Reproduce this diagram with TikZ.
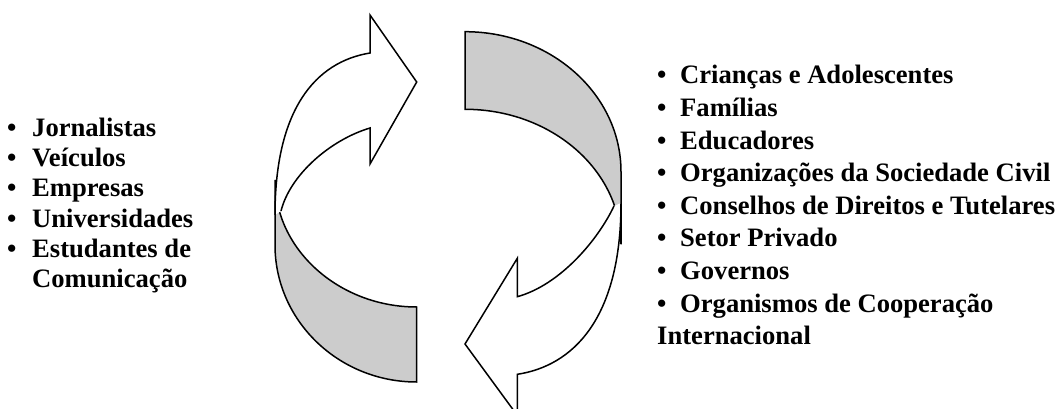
\documentclass[tikz,border=0pt]{standalone}
\usepackage{fontspec}
\setmainfont{Liberation Serif}
\usepackage{tikz}
\usetikzlibrary{positioning}
\usepackage{xcolor}
\definecolor{Silver}{HTML}{CCCCCC}
\tikzset{
  ribbon/.style={draw=black,line width=1.5pt,line join=miter},
  backface/.style={ribbon,fill=Silver},
  listitem/.style={anchor=base west,inner sep=0pt,font=\fontsize{26.6}{30}\selectfont\bfseries},
}

\begin{document}
\begin{tikzpicture}[x=1pt,y=-1pt]
     \useasboundingbox (0,0) rectangle (1061,409);
     \clip (0,0) rectangle (1061,409);

     % left arrow
     \filldraw[backface] (275,180) -- (275,245) .. controls (275,320.6) and (338.5,382) .. (416.7,382) -- (416.7,307) .. controls (339.6,307) and (275,250.1) .. (275,180) -- cycle;
     \fill[white] (370,53) .. controls (315,62) and (275,110) .. (275,215) -- (281,211) .. controls (290,175) and (330,140) .. (370,128) -- (370,164) -- (416.7,82) -- (370,15) -- cycle;
     \draw[ribbon] (281,211) .. controls (290,175) and (330,140) .. (370,128) -- (370,164) -- (416.7,82) -- (370,15) -- (370,53) .. controls (315,62) and (275,110) .. (275,215);

     % right arrow
     \filldraw[backface] (465,31.7) .. controls (551.1,31.7) and (621,94.4) .. (621,171.7) -- (621,244.3) .. controls (621,169.8) and (551.1,109.3) .. (465,109.3) -- cycle;
     \fill[white] (621,203) .. controls (621,320) and (572,366) .. (517.3,374.3) -- (517.3,415.4) -- (465,344) -- (517.3,258.3) -- (517.3,296.7) .. controls (560,285) and (598,240) .. (614,206) -- cycle;
     \draw[ribbon] (614,206) .. controls (598,240) and (560,285) .. (517.3,296.7) -- (517.3,258.3) -- (465,344) -- (517.3,415.4) -- (517.3,374.3) .. controls (572,366) and (621,320) .. (621,203);

     % left list
     \foreach \txt [count=\i] in {Jornalistas,Veículos,Empresas,Universidades,Estudantes de} {
          \node[listitem] (lb\i) at (7,{106.3+30.2*\i}) {\textbullet};
          \node[listitem] (l\i) at (32,{106.3+30.2*\i}) {\txt};
     }
     \node[listitem] (l6) at (32,287.5) {Comunicação};

     % right list
     \foreach \txt [count=\i] in {Crianças e Adolescentes,Famílias,Educadores,Organizações da Sociedade Civil,Conselhos de Direitos e Tutelares,Setor Privado,Governos,Organismos de Cooperação} {
          \node[listitem] (rb\i) at (657,{51.4+32.6*\i}) {\textbullet};
          \node[listitem] (r\i) at (680,{51.4+32.6*\i}) {\txt};
     }
     \node[listitem] (r9) at (657,344.8) {Internacional};
\end{tikzpicture}
\end{document}
